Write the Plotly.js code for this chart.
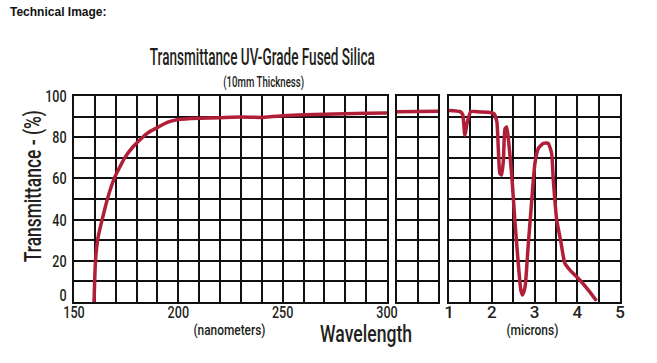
<!DOCTYPE html>
<html>
<head>
<meta charset="utf-8">
<script src="https://cdn.plot.ly/plotly-3.0.1.min.js"></script>
<style>
  html, body { margin: 0; padding: 0; background: #ffffff; }
  #chart { width: 657px; height: 363px; }
</style>
</head>
<body>
<div id="chart"></div>
<script>
// ---- Data ----
// UV region, nanometers
const uvWavelength = [159.6, 159.9, 160.3, 161.3, 162.3, 163.5, 166, 169.3, 174.3, 178, 182.9, 186, 190.5, 195, 200, 210, 220, 230, 240, 245, 250, 260, 270, 280, 290, 300];
const uvTransmittance = [0, 10, 20, 30, 35, 40, 50, 60, 70, 75, 80, 82.5, 85, 87.3, 88.6, 89.2, 89.5, 89.8, 89.6, 90, 90.4, 90.9, 91.2, 91.4, 91.6, 91.8];
// Broken section between the two scales
const breakPosition = [0, 1, 2];
const breakTransmittance = [92.3, 92.5, 92.6];
// IR region, microns
const irWavelength = [1.0, 1.26, 1.32, 1.37, 1.43, 1.51, 1.65, 1.96, 2.05, 2.12, 2.15, 2.19, 2.23, 2.27, 2.31, 2.35, 2.39, 2.44, 2.47, 2.50, 2.54, 2.62, 2.68, 2.72, 2.78, 2.85, 2.93, 3.01, 3.09, 3.21, 3.32, 3.40, 3.44, 3.52, 3.61, 3.71, 3.83, 4.06, 4.26, 4.45];
const irTransmittance = [93, 92.4, 91, 81, 87.5, 92.4, 92.4, 92, 91.5, 87.5, 76, 62.5, 61.6, 68, 84, 85, 79, 68, 60.8, 52, 39.8, 18.8, 5.8, 3.4, 7.4, 26.8, 47.9, 67.3, 74.6, 77, 77, 72.2, 59.2, 39.8, 30, 18.8, 15.5, 10.7, 5.8, 0.6];
// Ticks
const uvTicks = [150, 160, 170, 180, 190, 200, 210, 220, 230, 240, 250, 260, 270, 280, 290, 300];
const uvTickText = ["150", "", "", "", "", "200", "", "", "", "", "250", "", "", "", "", "300"];
const irTicks = [1, 1.5, 2, 2.5, 3, 3.5, 4, 4.5, 5];
const irTickText = ["1", "", "2", "", "3", "", "4", "", "5"];
const yTicks = [0, 10, 20, 30, 40, 50, 60, 70, 80, 90, 100];
const yTickText = ["0", "", "20", "", "40", "", "60", "", "80", "", "100"];

// ---- Layout helpers ----
const W = 657, H = 363;
const px = v => v / W;
const py = v => 1 - v / H;
const FONT = "Roboto, Liberation Sans, Arial, sans-serif";
const TXT = "#231f20";
const lineColor = "#b01e38";
const yDomain = [py(302), py(96)];

const baseX = {
  showline: true, mirror: true, linecolor: "#111", linewidth: 2,
  showgrid: true, gridcolor: "#111", gridwidth: 2,
  zeroline: false, ticks: "", fixedrange: true,
  tickmode: "array", ticklabelstandoff: -6,
  tickfont: { family: FONT, size: 17, color: TXT, weight: 500 }
};
const baseY = Object.assign({}, baseX, {
  range: [0, 100], tickvals: yTicks, ticktext: yTickText, domain: yDomain, ticklabelstandoff: 2
});

const traces = [
  { x: uvWavelength, y: uvTransmittance, xaxis: "x", yaxis: "y", mode: "lines",
    line: { color: lineColor, width: 3.5, shape: "spline", smoothing: 0.5 }, hoverinfo: "skip" },
  { x: breakPosition, y: breakTransmittance, xaxis: "x2", yaxis: "y2", mode: "lines",
    line: { color: lineColor, width: 3.5 }, hoverinfo: "skip" },
  { x: irWavelength, y: irTransmittance, xaxis: "x3", yaxis: "y3", mode: "lines",
    line: { color: lineColor, width: 3.5, shape: "spline", smoothing: 0.5 }, hoverinfo: "skip" }
];

const layout = {
  width: W, height: H,
  margin: { l: 0, r: 0, t: 0, b: 0 },
  paper_bgcolor: "#ffffff", plot_bgcolor: "#ffffff",
  showlegend: false,
  xaxis: Object.assign({}, baseX, { domain: [px(74), px(387)], range: [150, 300], tickvals: uvTicks, ticktext: uvTickText, anchor: "y" }),
  xaxis2: Object.assign({}, baseX, { domain: [px(397), px(438)], range: [0, 2], tickvals: breakPosition, ticktext: ["", "", ""], anchor: "y2" }),
  xaxis3: Object.assign({}, baseX, { domain: [px(449), px(620)], range: [1, 5], tickvals: irTicks, ticktext: irTickText, anchor: "y3" }),
  yaxis: Object.assign({}, baseY, { anchor: "x" }),
  yaxis2: Object.assign({}, baseY, { anchor: "x2", showticklabels: false }),
  yaxis3: Object.assign({}, baseY, { anchor: "x3", showticklabels: false }),
  annotations: [
    { text: "<b>Technical Image:</b>", x: px(8), y: py(12), xref: "paper", yref: "paper", xanchor: "left", yanchor: "middle",
      showarrow: false, font: { family: "Liberation Sans, Arial, sans-serif", size: 12, color: "#111" } },
    { text: "Transmittance UV-Grade Fused Silica", x: px(262), y: py(57), xref: "paper", yref: "paper", xanchor: "center", yanchor: "middle",
      showarrow: false, font: { family: FONT, size: 24, color: TXT, weight: 500 } },
    { text: "(10mm Thickness)", x: px(263), y: py(83), xref: "paper", yref: "paper", xanchor: "center", yanchor: "middle",
      showarrow: false, font: { family: FONT, size: 14, color: TXT, weight: 500 } },
    { text: "Transmittance - (%)", x: px(33), y: py(186), xref: "paper", yref: "paper", xanchor: "center", yanchor: "middle",
      textangle: -90, showarrow: false, font: { family: FONT, size: 24, color: TXT, weight: 500 } },
    { text: "(nanometers)", x: px(229), y: py(330), xref: "paper", yref: "paper", xanchor: "center", yanchor: "middle",
      showarrow: false, font: { family: FONT, size: 15, color: TXT, weight: 500 } },
    { text: "Wavelength", x: px(366), y: py(334), xref: "paper", yref: "paper", xanchor: "center", yanchor: "middle",
      showarrow: false, font: { family: FONT, size: 23, color: TXT, weight: 500 } },
    { text: "(microns)", x: px(532), y: py(330), xref: "paper", yref: "paper", xanchor: "center", yanchor: "middle",
      showarrow: false, font: { family: FONT, size: 15, color: TXT, weight: 500 } }
  ]
};

// Target widths (px) of the condensed lettering in the reference
const condensedWidth = {
  "Transmittance UV-Grade Fused Silica": 225,
  "(10mm Thickness)": 81,
  "Transmittance - (%)": 152,
  "(nanometers)": 72,
  "Wavelength": 92,
  "(microns)": 52
};

function condense(el, w) {
  el.setAttribute("textLength", w);
  el.setAttribute("lengthAdjust", "spacingAndGlyphs");
}

Plotly.newPlot("chart", traces, layout, { staticPlot: true, displayModeBar: false }).then(gd => {
  gd.querySelectorAll("text.annotation-text").forEach(el => {
    const w = condensedWidth[el.textContent];
    if (w) condense(el, w);
  });
  gd.querySelectorAll(".xtick text, .ytick text").forEach(el => {
    const len = el.getComputedTextLength();
    if (len > 0) condense(el, len * 0.74);
    if (el.textContent === "0" && el.closest(".ytick")) {
      el.setAttribute("transform", (el.getAttribute("transform") || "") + " translate(0,-7)");
    }
  });
});
</script>
</body>
</html>
